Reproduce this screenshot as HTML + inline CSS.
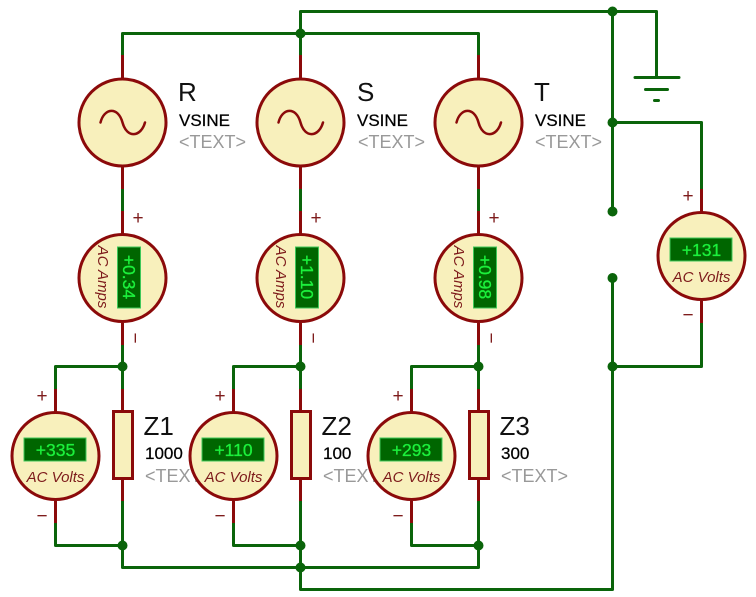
<!DOCTYPE html>
<html>
<head>
<meta charset="utf-8">
<style>
html,body{margin:0;padding:0;background:#fff;width:756px;height:597px;overflow:hidden}
svg{display:block}
text{font-family:"Liberation Sans",sans-serif}
.w{fill:none;stroke:#0a640a;stroke-width:3;stroke-linejoin:round;stroke-linecap:round}
.r{fill:none;stroke:#8b0a0a;stroke-width:3}
.b{fill:#f8f0bc;stroke:#8b0a0a;stroke-width:3}
.d{fill:#0a640a}
.s{fill:none;stroke:#8b0a0a;stroke-width:2.5;stroke-linecap:round}
.n{font-size:26px;fill:#111}
.v{font-size:17px;fill:#000;stroke:#000;stroke-width:.25}
.t{font-size:18px;fill:#999}
.l{font-size:15px;font-style:italic;fill:#7e1c1c;text-anchor:middle}
.m{font-size:17.5px;fill:#1cf03c;stroke:#1cf03c;stroke-width:.3;text-anchor:middle}
.p{font-size:19px;fill:#7e1c1c;text-anchor:middle}
.o{fill:#006600;stroke:#3fc85a;stroke-width:1}
</style>
</head>
<body>
<svg width="756" height="597" viewBox="0 0 756 597" xmlns="http://www.w3.org/2000/svg">
<!-- wires -->
<path class="w" d="M122.5 55V33.5H478.5V55M300.5 55V11.5H656.5V77M612.5 11.5V211M612.5 278V589.5H300.5V545.5M612.5 122.5H701.5V189M612.5 366.5H701.5V323"/>
<path class="w" d="M122.5 189V211M300.5 189V211M478.5 189V211"/>
<path class="w" d="M122.5 345V389M300.5 345V389M478.5 345V389"/>
<path class="w" d="M55.5 389V366.5H122.5M233.5 389V366.5H300.5M411.5 389V366.5H478.5"/>
<path class="w" d="M55.5 523V545.5H122.5V501M233.5 523V545.5H300.5V501M411.5 523V545.5H478.5V501"/>
<path class="w" d="M122.5 545.5V567.5H478.5V545.5"/>
<!-- ground -->
<path class="w" d="M635 77.5H679M645.5 89.5H667.5M654.5 100.5H658.5"/>
<!-- red leads -->
<path class="r" d="M122.5 55V78M300.5 55V78M478.5 55V78M122.5 167V189M300.5 167V189M478.5 167V189"/>
<path class="r" d="M122.5 211V234M300.5 211V234M478.5 211V234M122.5 323V345M300.5 323V345M478.5 323V345"/>
<path class="r" d="M55.5 389V412M233.5 389V412M411.5 389V412M55.5 501V523M233.5 501V523M411.5 501V523"/>
<path class="r" d="M122.5 389V411M300.5 389V411M478.5 389V411M122.5 479V501M300.5 479V501M478.5 479V501"/>
<path class="r" d="M701.5 189V212M701.5 301V323"/>
<!-- junctions -->
<g class="d">
<circle cx="300.5" cy="33.5" r="5"/><circle cx="612.5" cy="11.5" r="5"/>
<circle cx="612.5" cy="122.5" r="5"/><circle cx="612.5" cy="211.5" r="5"/><circle cx="612.5" cy="278" r="5"/><circle cx="612.5" cy="366.5" r="5"/>
<circle cx="122.5" cy="366.5" r="5"/><circle cx="300.5" cy="366.5" r="5"/><circle cx="478.5" cy="366.5" r="5"/>
<circle cx="122.5" cy="545.5" r="5"/><circle cx="300.5" cy="545.5" r="5"/><circle cx="478.5" cy="545.5" r="5"/>
<circle cx="300.5" cy="567.5" r="5"/>
</g>
<!-- source labels -->
<text class="n" x="178" y="101">R</text><text class="v" x="179" y="126">VSINE</text><text class="t" x="179" y="148">&lt;TEXT&gt;</text>
<text class="n" x="357" y="101">S</text><text class="v" x="357" y="126">VSINE</text><text class="t" x="358" y="148">&lt;TEXT&gt;</text>
<text class="n" x="534" y="101">T</text><text class="v" x="535" y="126">VSINE</text><text class="t" x="535" y="148">&lt;TEXT&gt;</text>
<!-- load labels -->
<text class="n" x="143.5" y="435">Z1</text><text class="v" x="145" y="459">1000</text><text class="t" x="145" y="482">&lt;TEXT&gt;</text>
<text class="n" x="321.5" y="435">Z2</text><text class="v" x="323" y="459">100</text><text class="t" x="323" y="482">&lt;TEXT&gt;</text>
<text class="n" x="499.5" y="435">Z3</text><text class="v" x="501" y="459">300</text><text class="t" x="501" y="482">&lt;TEXT&gt;</text>
<!-- sources -->
<circle class="b" cx="122.5" cy="122.5" r="43.5"/><circle class="b" cx="300.5" cy="122.5" r="43.5"/><circle class="b" cx="478.5" cy="122.5" r="43.5"/>
<path class="s" d="M100.5 122.5C104 108 118 106 122.5 122.5C127 139 141 137 145 122.5"/>
<path class="s" d="M278.5 122.5C282 108 296 106 300.5 122.5C305 139 319 137 323 122.5"/>
<path class="s" d="M456.5 122.5C460 108 474 106 478.5 122.5C483 139 497 137 501 122.5"/>
<!-- ammeters -->
<g transform="translate(122.5,278)">
<circle class="b" r="43.5"/><rect class="o" x="-5" y="-31" width="23" height="61"/>
<text class="m" transform="translate(0.5,-1) rotate(90)">+0.34</text>
<text class="l" transform="translate(-24.5,-1) rotate(90)">AC Amps</text>
</g>
<g transform="translate(300.5,278)">
<circle class="b" r="43.5"/><rect class="o" x="-5" y="-31" width="23" height="61"/>
<text class="m" transform="translate(0.5,-1) rotate(90)">+1.10</text>
<text class="l" transform="translate(-24.5,-1) rotate(90)">AC Amps</text>
</g>
<g transform="translate(478.5,278)">
<circle class="b" r="43.5"/><rect class="o" x="-5" y="-31" width="23" height="61"/>
<text class="m" transform="translate(0.5,-1) rotate(90)">+0.98</text>
<text class="l" transform="translate(-24.5,-1) rotate(90)">AC Amps</text>
</g>
<text class="p" x="138" y="224">+</text><text class="p" x="316" y="224">+</text><text class="p" x="494" y="224">+</text>
<text class="p" transform="translate(129,338) rotate(90)">−</text>
<text class="p" transform="translate(307,338) rotate(90)">−</text>
<text class="p" transform="translate(485,338) rotate(90)">−</text>
<!-- voltmeters -->
<g transform="translate(55.5,456)">
<circle class="b" r="43.5"/><rect class="o" x="-31.5" y="-18" width="62" height="23"/>
<text class="m" y="0">+335</text><text class="l" y="26">AC Volts</text>
</g>
<g transform="translate(233.5,456)">
<circle class="b" r="43.5"/><rect class="o" x="-31.5" y="-18" width="62" height="23"/>
<text class="m" y="0">+110</text><text class="l" y="26">AC Volts</text>
</g>
<g transform="translate(411.5,456)">
<circle class="b" r="43.5"/><rect class="o" x="-31.5" y="-18" width="62" height="23"/>
<text class="m" y="0">+293</text><text class="l" y="26">AC Volts</text>
</g>
<g transform="translate(701.5,256)">
<circle class="b" r="43.5"/><rect class="o" x="-31.5" y="-18" width="62" height="23"/>
<text class="m" y="0">+131</text><text class="l" y="26">AC Volts</text>
</g>
<text class="p" x="42" y="402">+</text><text class="p" x="220" y="402">+</text><text class="p" x="398" y="402">+</text><text class="p" x="688" y="202">+</text>
<text class="p" x="42" y="522">−</text><text class="p" x="220" y="522">−</text><text class="p" x="398" y="522">−</text><text class="p" x="688" y="321">−</text>
<!-- resistors -->
<rect class="b" x="113.5" y="411.5" width="19" height="67"/>
<rect class="b" x="291.5" y="411.5" width="19" height="67"/>
<rect class="b" x="469.5" y="411.5" width="19" height="67"/>
</svg>
</body>
</html>
